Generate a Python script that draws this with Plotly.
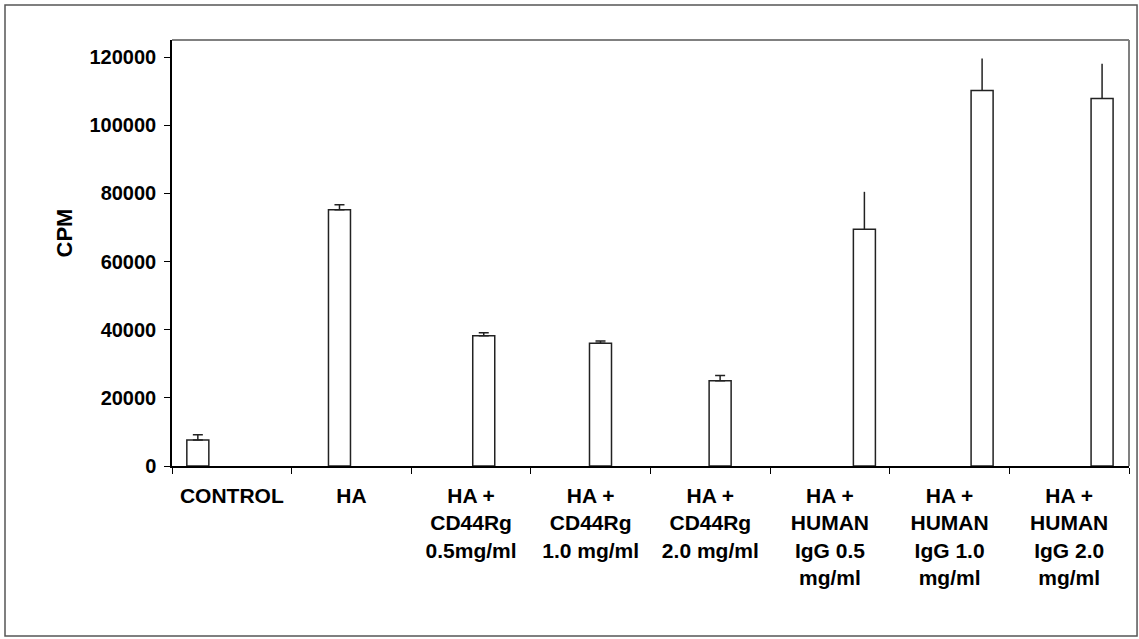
import plotly.graph_objects as go

# Treatment groups and measured counts (CPM) with upper error
categories = [
    "CONTROL",
    "HA",
    "HA +<br>CD44Rg<br>0.5mg/ml",
    "HA +<br>CD44Rg<br>1.0 mg/ml",
    "HA +<br>CD44Rg<br>2.0 mg/ml",
    "HA +<br>HUMAN<br>IgG 0.5<br>mg/ml",
    "HA +<br>HUMAN<br>IgG 1.0<br>mg/ml",
    "HA +<br>HUMAN<br>IgG 2.0<br>mg/ml",
]
cpm = [7600, 75200, 38200, 36000, 25000, 69500, 110200, 107800]
err_plus = [1600, 1450, 900, 700, 1550, 10950, 9400, 10200]

# bar placement inside each category slot (category units)
bar_width = 0.184
bar_offsets = [-0.376, -0.192, 0.014, -0.01, -0.01, 0.196, 0.18, 0.183]

capped = range(0, 5)     # short error bars drawn with caps
uncapped = range(5, 8)   # long error bars drawn without caps

FONT = "Liberation Sans, Arial, sans-serif"

fig = go.Figure()
for idx, cap in ((capped, 5), (uncapped, 0)):
    idx = list(idx)
    fig.add_trace(go.Bar(
        x=[categories[i] for i in idx],
        y=[cpm[i] for i in idx],
        offset=[bar_offsets[i] for i in idx],
        width=bar_width,
        marker=dict(color="white", line=dict(color="#222222", width=1.5)),
        error_y=dict(type="data", symmetric=False,
                     array=[err_plus[i] for i in idx],
                     arrayminus=[0] * len(idx),
                     color="#222222", thickness=1.5, width=cap),
        showlegend=False,
    ))

fig.update_layout(
    width=1139, height=639,
    margin=dict(l=172, r=10, t=40, b=173),
    paper_bgcolor="white", plot_bgcolor="white",
    barmode="overlay",
    font=dict(family=FONT, color="black"),
    xaxis=dict(
        type="category",
        categoryorder="array", categoryarray=categories,
        tickson="boundaries",
        ticks="outside", ticklen=6, tickcolor="black", tickwidth=1,
        showline=True, linecolor="black", linewidth=1.5,
        showgrid=False, zeroline=False,
        tickfont=dict(size=21, family=FONT, weight="bold"),
        ticklabelstandoff=10,
        range=[-0.5, 7.5],
    ),
    yaxis=dict(
        range=[0, 125000],
        tickvals=[0, 20000, 40000, 60000, 80000, 100000, 120000],
        ticktext=["0", "20000", "40000", "60000", "80000", "100000", "120000"],
        ticks="outside", ticklen=6, tickcolor="black", tickwidth=1,
        showline=True, linecolor="black", linewidth=1.5,
        showgrid=False, zeroline=False,
        tickfont=dict(size=20, family=FONT, weight="bold"),
        ticklabelstandoff=4,
    ),
    shapes=[
        # grey frame along top and right of the plotting area
        dict(type="line", xref="paper", yref="paper", x0=0, x1=1, y0=1, y1=1,
             line=dict(color="#808080", width=2)),
        dict(type="line", xref="paper", yref="paper", x0=1, x1=1, y0=0, y1=1,
             line=dict(color="#808080", width=2)),
        # outer border of the figure
        dict(type="rect", xref="paper", yref="paper",
             x0=-0.1745, x1=1.0084, y0=-0.399, y1=1.0822,
             line=dict(color="#555555", width=1.5)),
    ],
    annotations=[
        dict(text="<b>CPM</b>", textangle=-90, xref="paper", yref="paper",
             x=-0.1275, y=0.547, showarrow=False,
             font=dict(size=22, family=FONT)),
    ],
)

fig.write_html("out.html")
